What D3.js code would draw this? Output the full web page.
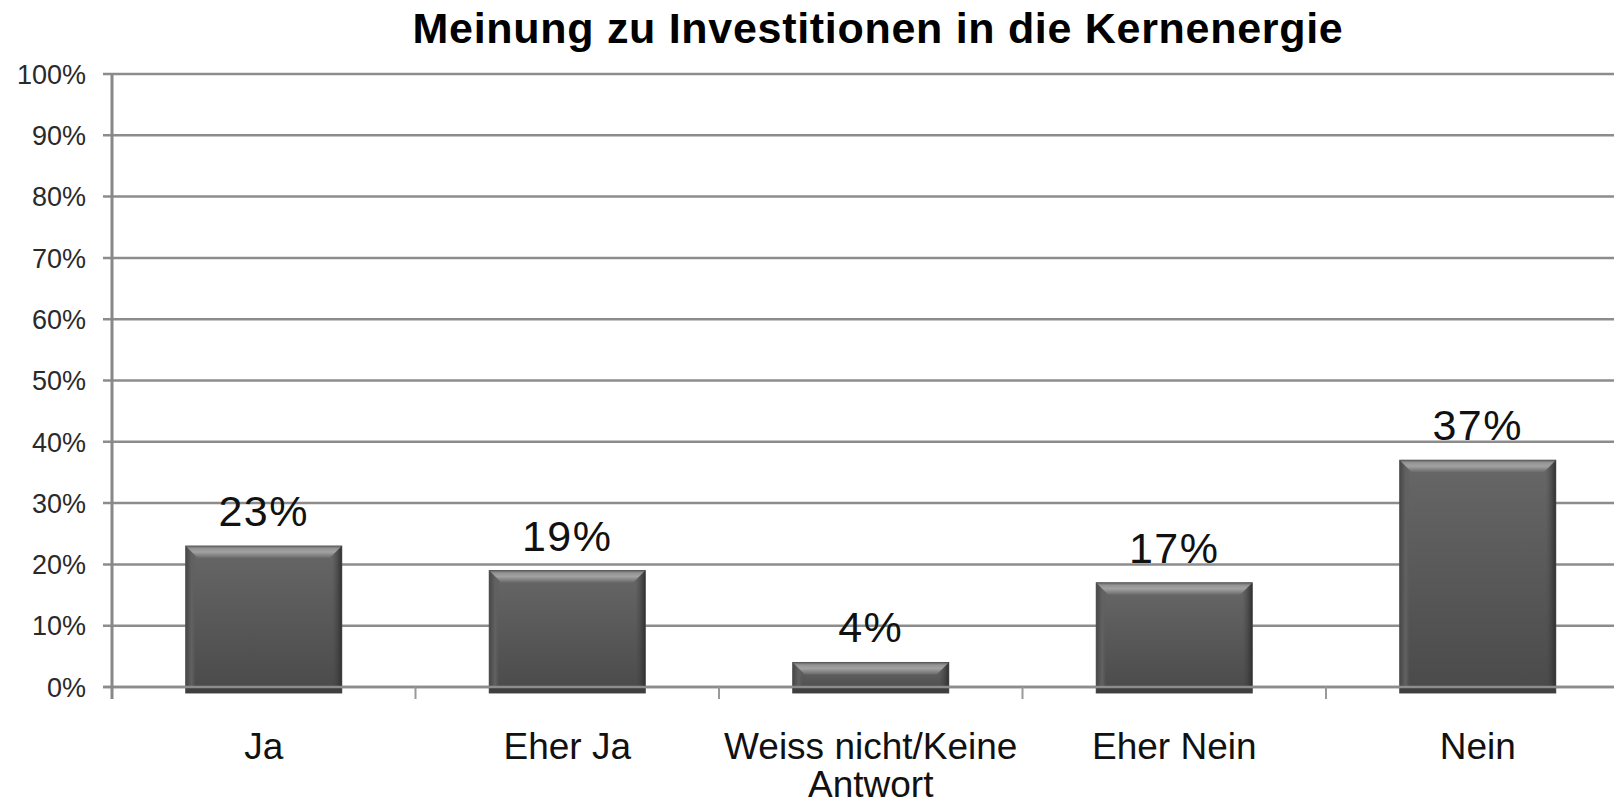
<!DOCTYPE html>
<html>
<head>
<meta charset="utf-8">
<script src="https://cdn.jsdelivr.net/npm/d3@7"></script>
<style>
  body { margin: 0; background: #fff; }
  text { font-family: "Liberation Sans", Arial, sans-serif; }
</style>
</head>
<body>
<div id="chart"></div>
<script>
// chart data
const categories = ["Ja", "Eher Ja", "Weiss nicht/Keine Antwort", "Eher Nein", "Nein"];
const categoryLines = [["Ja"], ["Eher Ja"], ["Weiss nicht/Keine", "Antwort"], ["Eher Nein"], ["Nein"]];
const values = [23, 19, 4, 17, 37];
const yTicks = [0, 10, 20, 30, 40, 50, 60, 70, 80, 90, 100];
const title = "Meinung zu Investitionen in die Kernenergie";

// dimensions
const width = 1614, height = 804;
const margin = { top: 74, left: 112, bottom: 117 };
const plotBottom = height - margin.bottom;
const step = 303.5;

const x = d3.scaleBand()
    .domain(categories)
    .range([margin.left, margin.left + step * categories.length])
    .paddingInner(0.486)
    .paddingOuter(0.243);

const y = d3.scaleLinear()
    .domain([0, 100])
    .range([plotBottom, margin.top]);

const svg = d3.select("#chart")
    .append("svg")
    .attr("width", width)
    .attr("height", height);

const defs = svg.append("defs");

// body gradient
const body = defs.append("linearGradient").attr("id", "body")
    .attr("x1", 0).attr("y1", 0).attr("x2", 0).attr("y2", 1);
body.append("stop").attr("offset", "0%").attr("stop-color", "#676767");
body.append("stop").attr("offset", "100%").attr("stop-color", "#4a4a4a");

// top bevel gradient
const topBevel = defs.append("linearGradient").attr("id", "topBevel")
    .attr("x1", 0).attr("y1", 0).attr("x2", 0).attr("y2", 1);
topBevel.append("stop").attr("offset", "0%").attr("stop-color", "#5e5e5e");
topBevel.append("stop").attr("offset", "20%").attr("stop-color", "#939393");
topBevel.append("stop").attr("offset", "50%").attr("stop-color", "#a2a2a2");
topBevel.append("stop").attr("offset", "100%").attr("stop-color", "#6a6a6a");

// side bevel gradients
const leftBevel = defs.append("linearGradient").attr("id", "leftBevel")
    .attr("x1", 0).attr("y1", 0).attr("x2", 1).attr("y2", 0);
leftBevel.append("stop").attr("offset", "0%").attr("stop-color", "#474747");
leftBevel.append("stop").attr("offset", "60%").attr("stop-color", "#626262");
leftBevel.append("stop").attr("offset", "100%").attr("stop-color", "#5c5c5c").attr("stop-opacity", 0);

const rightBevel = defs.append("linearGradient").attr("id", "rightBevel")
    .attr("x1", 0).attr("y1", 0).attr("x2", 1).attr("y2", 0);
rightBevel.append("stop").attr("offset", "0%").attr("stop-color", "#4a4a4a").attr("stop-opacity", 0);
rightBevel.append("stop").attr("offset", "100%").attr("stop-color", "#303030");

// gridlines
svg.append("g")
    .selectAll("line")
    .data(yTicks)
    .join("line")
    .attr("x1", margin.left - 9)
    .attr("x2", width)
    .attr("y1", d => y(d))
    .attr("y2", d => y(d))
    .attr("stroke", "#8c8c8c")
    .attr("stroke-width", 2.5);

// y tick labels
svg.append("g")
    .selectAll("text")
    .data(yTicks)
    .join("text")
    .attr("x", 86)
    .attr("y", d => y(d))
    .attr("dy", "0.36em")
    .attr("text-anchor", "end")
    .attr("font-size", 27)
    .attr("fill", "#2a2a2a")
    .text(d => d + "%");

// bars
const bevel = 12;
const bars = svg.append("g")
    .selectAll("g")
    .data(categories.map((c, i) => ({ cat: c, val: values[i] })))
    .join("g");

bars.append("rect")
    .attr("x", d => x(d.cat))
    .attr("y", d => y(d.val))
    .attr("width", x.bandwidth())
    .attr("height", d => y(0) - y(d.val) + 6)
    .attr("fill", "url(#body)")
    .attr("stroke", "#555")
    .attr("stroke-width", 1);

bars.append("rect")
    .attr("x", d => x(d.cat))
    .attr("y", d => y(d.val))
    .attr("width", 10)
    .attr("height", d => y(0) - y(d.val))
    .attr("fill", "url(#leftBevel)");

bars.append("rect")
    .attr("x", d => x(d.cat) + x.bandwidth() - 10)
    .attr("y", d => y(d.val))
    .attr("width", 10)
    .attr("height", d => y(0) - y(d.val))
    .attr("fill", "url(#rightBevel)");

bars.append("polygon")
    .attr("points", d => {
        const x0 = x(d.cat), x1 = x0 + x.bandwidth(), t = y(d.val);
        const b = Math.min(bevel, (y(0) - t) / 2);
        return [[x0, t], [x1, t], [x1 - b, t + b], [x0 + b, t + b]].join(" ");
    })
    .attr("fill", "url(#topBevel)");

// dark base strip below the axis
bars.append("rect")
    .attr("x", d => x(d.cat))
    .attr("y", y(0) + 1)
    .attr("width", x.bandwidth())
    .attr("height", 5)
    .attr("fill", "#3e3e3e");

// zero line drawn over bars
svg.append("line")
    .attr("x1", margin.left - 9)
    .attr("x2", width)
    .attr("y1", y(0))
    .attr("y2", y(0))
    .attr("stroke", "#8c8c8c")
    .attr("stroke-width", 2.5);

// y axis line
svg.append("line")
    .attr("x1", margin.left)
    .attr("x2", margin.left)
    .attr("y1", y(100))
    .attr("y2", y(0) + 12)
    .attr("stroke", "#888")
    .attr("stroke-width", 3);

// x category boundary ticks
svg.append("g")
    .selectAll("line")
    .data(d3.range(1, categories.length + 1))
    .join("line")
    .attr("x1", i => x.range()[0] + i * x.step())
    .attr("x2", i => x.range()[0] + i * x.step())
    .attr("y1", y(0))
    .attr("y2", y(0) + 12)
    .attr("stroke", "#999")
    .attr("stroke-width", 2);

// value labels
bars.append("text")
    .attr("x", d => x(d.cat) + x.bandwidth() / 2)
    .attr("y", d => y(d.val) - 20)
    .attr("text-anchor", "middle")
    .attr("font-size", 43)
    .attr("letter-spacing", 1.5)
    .attr("fill", "#111")
    .text(d => d.val + "%");

// category labels
const catLabels = svg.append("g")
    .selectAll("text")
    .data(categories)
    .join("text")
    .attr("x", d => x(d) + x.bandwidth() / 2)
    .attr("y", 759)
    .attr("text-anchor", "middle")
    .attr("font-size", 37)
    .attr("fill", "#111");

catLabels.selectAll("tspan")
    .data((d, i) => categoryLines[i])
    .join("tspan")
    .attr("x", function() { return this.parentNode.getAttribute("x"); })
    .attr("dy", (d, i) => i === 0 ? 0 : 38)
    .text(d => d);

// title
svg.append("text")
    .attr("x", 878)
    .attr("y", 43)
    .attr("text-anchor", "middle")
    .attr("font-size", 43)
    .attr("letter-spacing", 0.7)
    .attr("font-weight", "bold")
    .attr("fill", "#000")
    .text(title);
</script>
</body>
</html>
